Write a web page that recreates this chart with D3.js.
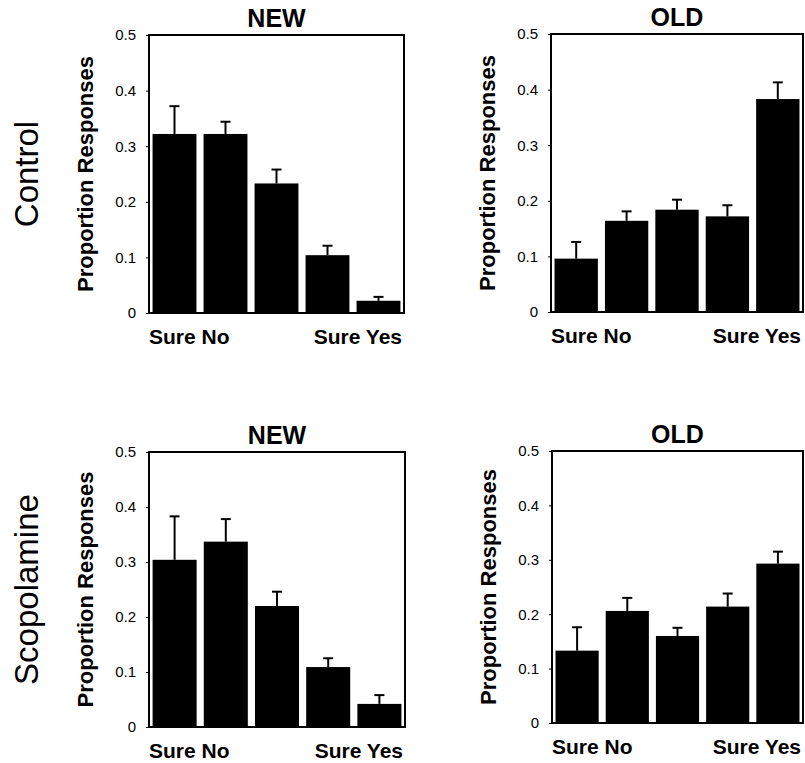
<!DOCTYPE html>
<html>
<head>
<meta charset="utf-8">
<script src="https://cdn.jsdelivr.net/npm/d3@7"></script>
<style>
  body { margin: 0; background: #fff; }
  svg { display: block; font-family: "Liberation Sans", Arial, Helvetica, sans-serif; }
</style>
</head>
<body>
<div id="chart"></div>
<script>
// response categories (confidence rating 1..5)
const categories = ["1", "2", "3", "4", "5"];
const yTicks = [0, 0.1, 0.2, 0.3, 0.4, 0.5];
const groups = ["Control", "Scopolamine"];
const itemTypes = ["NEW", "OLD"];

// mean proportions and upward SE per panel
const controlNew = [0.322, 0.322, 0.233, 0.104, 0.022];
const controlNewErr = [0.050, 0.022, 0.025, 0.017, 0.007];
const controlOld = [0.096, 0.164, 0.184, 0.172, 0.383];
const controlOldErr = [0.030, 0.017, 0.018, 0.020, 0.030];
const scopNew = [0.304, 0.337, 0.220, 0.109, 0.042];
const scopNewErr = [0.079, 0.041, 0.026, 0.016, 0.016];
const scopOld = [0.133, 0.206, 0.160, 0.214, 0.293];
const scopOldErr = [0.043, 0.024, 0.015, 0.024, 0.022];

const width = 805, height = 763;

// panel boxes (layout only)
const panels = [
  { title: itemTypes[0], values: controlNew, errs: controlNewErr, x0: 149, x1: 404, y0: 35, y1: 313 },
  { title: itemTypes[1], values: controlOld, errs: controlOldErr, x0: 551, x1: 803, y0: 34, y1: 312 },
  { title: itemTypes[0], values: scopNew, errs: scopNewErr, x0: 149, x1: 405, y0: 452, y1: 727 },
  { title: itemTypes[1], values: scopOld, errs: scopOldErr, x0: 552, x1: 803, y0: 451, y1: 723 }
];

const svg = d3.select("#chart")
  .append("svg")
  .attr("width", width)
  .attr("height", height);

panels.forEach(p => {
  const x = d3.scaleBand()
    .domain(categories)
    .range([p.x0, p.x1])
    .paddingInner(0.14)
    .paddingOuter(0.07);

  const y = d3.scaleLinear()
    .domain([0, 0.5])
    .range([p.y1, p.y0]);

  const g = svg.append("g");

  // bars
  g.selectAll(".bar")
    .data(p.values)
    .enter()
    .append("rect")
    .attr("class", "bar")
    .attr("x", (d, i) => x(categories[i]))
    .attr("y", d => y(d))
    .attr("width", x.bandwidth())
    .attr("height", d => y(0) - y(d))
    .attr("fill", "#000");

  // error bars, upward only
  const cx = i => x(categories[i]) + x.bandwidth() / 2;
  g.selectAll(".err")
    .data(p.values)
    .enter()
    .append("line")
    .attr("x1", (d, i) => cx(i))
    .attr("x2", (d, i) => cx(i))
    .attr("y1", d => y(d))
    .attr("y2", (d, i) => y(d + p.errs[i]))
    .attr("stroke", "#000")
    .attr("stroke-width", 2);

  g.selectAll(".cap")
    .data(p.values)
    .enter()
    .append("line")
    .attr("x1", (d, i) => cx(i) - 5)
    .attr("x2", (d, i) => cx(i) + 5)
    .attr("y1", (d, i) => y(d + p.errs[i]))
    .attr("y2", (d, i) => y(d + p.errs[i]))
    .attr("stroke", "#000")
    .attr("stroke-width", 2);

  // frame
  g.append("rect")
    .attr("x", p.x0)
    .attr("y", p.y0)
    .attr("width", p.x1 - p.x0)
    .attr("height", p.y1 - p.y0)
    .attr("fill", "none")
    .attr("stroke", "#000")
    .attr("stroke-width", 2);

  // y axis
  const yAxis = g.append("g")
    .attr("transform", `translate(${p.x0}, 0)`)
    .call(d3.axisLeft(y)
      .tickValues(yTicks)
      .tickSize(3)
      .tickPadding(10)
      .tickFormat(d => d === 0 ? "0" : d3.format(".1f")(d)));
  yAxis.select(".domain").remove();
  yAxis.selectAll("line").attr("stroke", "#000");
  yAxis.selectAll("text")
    .attr("fill", "#000")
    .style("font-size", "15px")
    .style("font-family", "'Liberation Sans', Arial, sans-serif");

  // y label
  const ly = (p.y0 + p.y1) / 2;
  g.append("text")
    .attr("transform", `translate(${p.x0 - 56}, ${ly}) rotate(-90)`)
    .attr("text-anchor", "middle")
    .style("font-size", "22px")
    .style("font-weight", "bold")
    .text("Proportion Responses");

  // title
  g.append("text")
    .attr("x", (p.x0 + p.x1) / 2)
    .attr("y", p.y0 - 8)
    .attr("text-anchor", "middle")
    .style("font-size", "25px")
    .style("font-weight", "bold")
    .text(p.title);

  // scale ends
  g.append("text")
    .attr("x", p.x0)
    .attr("y", p.y1 + 31)
    .style("font-size", "21px")
    .style("font-weight", "bold")
    .text("Sure No");

  g.append("text")
    .attr("x", p.x1 - 2)
    .attr("y", p.y1 + 31)
    .attr("text-anchor", "end")
    .style("font-size", "21px")
    .style("font-weight", "bold")
    .text("Sure Yes");
});

// row labels
groups.forEach((name, r) => {
  const p = panels[r * 2];
  svg.append("text")
    .attr("transform", `translate(38, ${(p.y0 + p.y1) / 2}) rotate(-90)`)
    .attr("text-anchor", "middle")
    .style("font-size", "33px")
    .text(name);
});
</script>
</body>
</html>
